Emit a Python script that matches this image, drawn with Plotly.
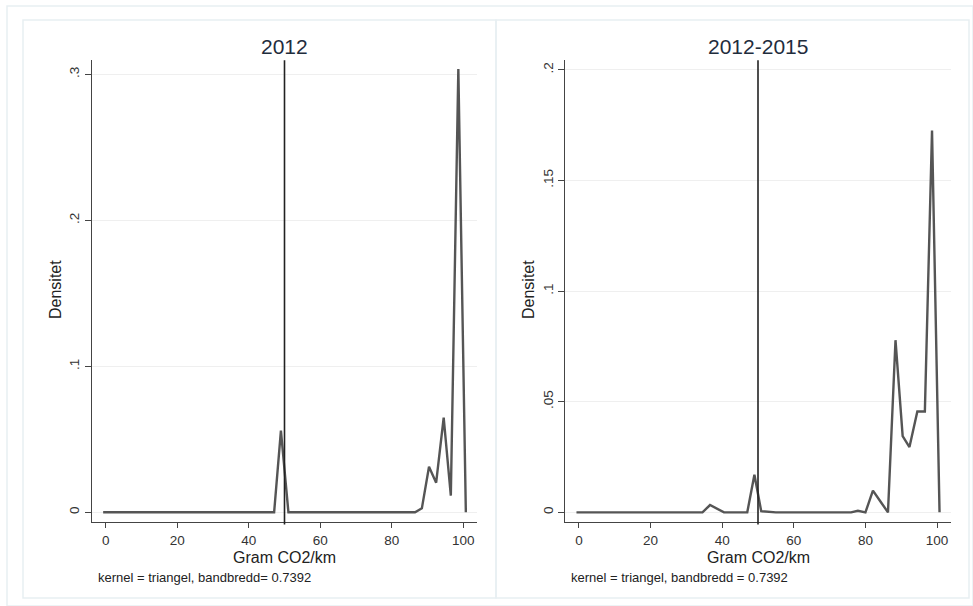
import plotly.graph_objects as go

# ---- data ----
x_2012 = [-0.7, 47.1, 49.0, 51.1, 86.5, 88.4, 90.4, 92.4, 94.5, 96.5, 98.6, 100.7]
y_2012 = [0.0, 0.0, 0.0559, 0.0, 0.0, 0.0027, 0.0312, 0.0203, 0.0648, 0.0114, 0.3036, 0.0]

x_1215 = [-0.7, 34.5, 36.6, 38.6, 40.5, 47.0, 49.0, 50.9, 53.0, 55.0, 76.0, 77.9, 80.0,
          82.1, 84.2, 86.3, 88.4, 90.4, 92.3, 94.5, 96.6, 98.6, 100.7]
y_1215 = [0.0, 0.0, 0.0033, 0.0015, 0.0, 0.0, 0.0170, 0.0005, 0.0004, 0.0, 0.0, 0.0007, 0.0,
          0.0098, 0.0049, 0.0, 0.0778, 0.0345, 0.0295, 0.0456, 0.0456, 0.1726, 0.0]

x_ticks = [0, 20, 40, 60, 80, 100]
y_ticks_2012 = [0, 0.1, 0.2, 0.3]
y_labels_2012 = ["0", ".1", ".2", ".3"]
y_ticks_1215 = [0, 0.05, 0.1, 0.15, 0.2]
y_labels_1215 = ["0", ".05", ".1", ".15", ".2"]
ref_x = 50
titles = ["2012", "2012-2015"]
notes = ["kernel = triangel, bandbredd= 0.7392", "kernel = triangel, bandbredd = 0.7392"]
x_title = "Gram CO2/km"
y_title = "Densitet"

W, H = 973, 606
FONT = "Liberation Sans, Arial, sans-serif"
LINE = "#555555"
AX = "#444444"

def px(v):
    return v / W

def py(v):
    return 1 - v / H

fig = go.Figure()
fig.add_trace(go.Scatter(x=x_2012, y=y_2012, mode="lines", xaxis="x", yaxis="y",
                         line=dict(color=LINE, width=2.4), showlegend=False, hoverinfo="x+y"))
fig.add_trace(go.Scatter(x=x_1215, y=y_1215, mode="lines", xaxis="x2", yaxis="y2",
                         line=dict(color=LINE, width=2.4), showlegend=False, hoverinfo="x+y"))

tick_font = dict(family=FONT, size=13.5, color="#333333")
common_x = dict(range=[-3.9, 103.9], tickvals=x_ticks, ticks="outside", ticklen=5,
                tickcolor=AX, showline=True, linecolor=AX, linewidth=1.2, showgrid=False,
                zeroline=False, tickfont=tick_font)
common_y = dict(ticks="outside", ticklen=6, tickcolor=AX, showline=True, linecolor=AX,
                linewidth=1.2, showgrid=True, gridcolor="#efefef", gridwidth=1, zeroline=False,
                tickangle=-90, tickfont=tick_font)

yb, yt = 522.3, 60.3
fig.update_layout(
    width=W, height=H, margin=dict(l=0, r=0, t=0, b=0),
    paper_bgcolor="white", plot_bgcolor="white",
    xaxis=dict(common_x, domain=[px(91.7), px(477.3)], anchor="y"),
    yaxis=dict(common_y, domain=[py(yb), py(yt)], anchor="x",
               range=[-0.00685, 0.3096], tickvals=y_ticks_2012, ticktext=y_labels_2012),
    xaxis2=dict(common_x, domain=[px(565), px(951)], anchor="y2"),
    yaxis2=dict(common_y, domain=[py(yb), py(yt)], anchor="x2",
                range=[-0.0045, 0.2043], tickvals=y_ticks_1215, ticktext=y_labels_1215),
    font=dict(family=FONT),
)

# reference line at x = 50
for xr, yr in [("x", "y domain"), ("x2", "y2 domain")]:
    fig.add_shape(type="line", xref=xr, yref=yr, x0=ref_x, x1=ref_x, y0=-0.005, y1=1,
                  line=dict(color="#222222", width=1.6))

# faint panel frames
frame = "#e8eff2"
fig.add_shape(type="rect", xref="paper", yref="paper", x0=px(7), x1=1, y0=0, y1=py(6),
              line=dict(color=frame, width=1.5), layer="below")
fig.add_shape(type="rect", xref="paper", yref="paper", x0=px(23), x1=px(496), y0=py(598), y1=py(20),
              line=dict(color=frame, width=1.5), layer="below")
fig.add_shape(type="rect", xref="paper", yref="paper", x0=px(496), x1=px(969), y0=py(598), y1=py(20),
              line=dict(color=frame, width=1.5), layer="below")

panels = [((91.7 + 477.3) / 2, 55, 95.7), ((565 + 951) / 2, 528, 568.7)]
for i, (cx, ytx, nx) in enumerate(panels):
    fig.add_annotation(x=px(cx), y=py(46), xref="paper", yref="paper", text=titles[i], showarrow=False,
                       font=dict(family=FONT, size=21, color="#1f2d3d"), xanchor="center", yanchor="middle")
    fig.add_annotation(x=px(cx), y=py(557.5), xref="paper", yref="paper", text=x_title, showarrow=False,
                       font=dict(family=FONT, size=16, color="#222222"), xanchor="center", yanchor="middle")
    fig.add_annotation(x=px(ytx), y=py(290), xref="paper", yref="paper", text=y_title, showarrow=False,
                       textangle=-90, font=dict(family=FONT, size=16, color="#222222"),
                       xanchor="center", yanchor="middle")
    fig.add_annotation(x=px(nx), y=py(577), xref="paper", yref="paper", text=notes[i], showarrow=False,
                       font=dict(family=FONT, size=13, color="#222222"), xanchor="left", yanchor="middle")

fig.write_html("out.html")
